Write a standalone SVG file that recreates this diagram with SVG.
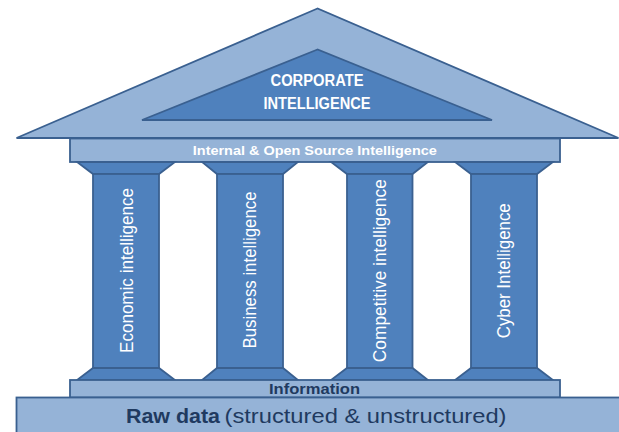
<svg xmlns="http://www.w3.org/2000/svg" width="619" height="432" viewBox="0 0 619 432">
  <style>
    .light { fill: #95B3D7; stroke: #3A6090; stroke-width: 1.8; stroke-linejoin: miter; }
    .mid { fill: #4F81BD; stroke: #3A6090; stroke-width: 1.8; stroke-linejoin: miter; }
    .white { fill: #FFFFFF; font-family: "Liberation Sans", Arial, sans-serif; }
    .dark { fill: #1F3A60; font-family: "Liberation Sans", Arial, sans-serif; }
    .b { font-weight: bold; }
    .pillar-label { fill: #FFFFFF; font-family: "Liberation Sans", Arial, sans-serif; font-size: 17.5px; text-anchor: middle; }
  </style>
  <rect width="619" height="432" fill="#FFFFFF"/>

  <!-- Roof / pediment -->
  <g id="roof">
    <polygon class="light" points="317.5,8.5 16.5,138 618.5,138"/>
    <polygon class="mid" points="317.5,49.5 142,120 492,120"/>
    <text class="white b" x="317" y="86" font-size="16" text-anchor="middle" textLength="93" lengthAdjust="spacingAndGlyphs">CORPORATE</text>
    <text class="white b" x="317" y="108.5" font-size="16" text-anchor="middle" textLength="107" lengthAdjust="spacingAndGlyphs">INTELLIGENCE</text>
  </g>

  <!-- Architrave -->
  <g id="architrave">
    <rect class="light" x="70" y="138.5" width="490" height="23.5"/>
    <text class="white b" x="314.8" y="155" font-size="13.5" text-anchor="middle" textLength="244" lengthAdjust="spacingAndGlyphs">Internal &amp; Open Source Intelligence</text>
  </g>

  <!-- Pillars: capital, shaft, base -->
  <g id="pillar-economic">
    <polygon class="mid" points="77,162 175,162 159,174 93,174"/>
    <rect class="mid" x="93" y="174" width="66" height="194"/>
    <polygon class="mid" points="93,368 159,368 175,380 77,380"/>
    <text class="pillar-label" transform="translate(132.5,270.5) rotate(-90)" textLength="165" lengthAdjust="spacingAndGlyphs">Economic intelligence</text>
  </g>
  <g id="pillar-business">
    <polygon class="mid" points="202,162 298,162 283,174 217,174"/>
    <rect class="mid" x="217" y="174" width="66" height="194"/>
    <polygon class="mid" points="217,368 283,368 298,380 202,380"/>
    <text class="pillar-label" transform="translate(255.7,270) rotate(-90)" textLength="157" lengthAdjust="spacingAndGlyphs">Business intelligence</text>
  </g>
  <g id="pillar-competitive">
    <polygon class="mid" points="331,162 428,162 412.5,174 347,174"/>
    <rect class="mid" x="347" y="174" width="65.5" height="194"/>
    <polygon class="mid" points="347,368 412.5,368 428,380 331,380"/>
    <text class="pillar-label" transform="translate(386,270.7) rotate(-90)" textLength="183" lengthAdjust="spacingAndGlyphs">Competitive intelligence</text>
  </g>
  <g id="pillar-cyber">
    <polygon class="mid" points="455,162 553,162 537,174 471,174"/>
    <rect class="mid" x="471" y="174" width="66" height="194"/>
    <polygon class="mid" points="471,368 537,368 553,380 455,380"/>
    <text class="pillar-label" transform="translate(510,270.8) rotate(-90)" textLength="135" lengthAdjust="spacingAndGlyphs">Cyber Intelligence</text>
  </g>

  <!-- Plinth -->
  <g id="information">
    <rect class="light" x="70" y="380" width="490" height="17.5"/>
    <text class="dark b" x="314.5" y="394" font-size="14.5" text-anchor="middle" textLength="91" lengthAdjust="spacingAndGlyphs">Information</text>
  </g>

  <!-- Foundation -->
  <g id="raw-data">
    <rect class="light" x="16.5" y="397.5" width="606" height="40"/>
    <text class="dark b" x="126" y="423" font-size="21" textLength="94" lengthAdjust="spacingAndGlyphs">Raw data</text>
    <text class="dark" x="224.5" y="423" font-size="21" textLength="282" lengthAdjust="spacingAndGlyphs">(structured &amp; unstructured)</text>
  </g>

  <!-- No connectors in this drawing -->
  <g id="connectors"/>
</svg>
